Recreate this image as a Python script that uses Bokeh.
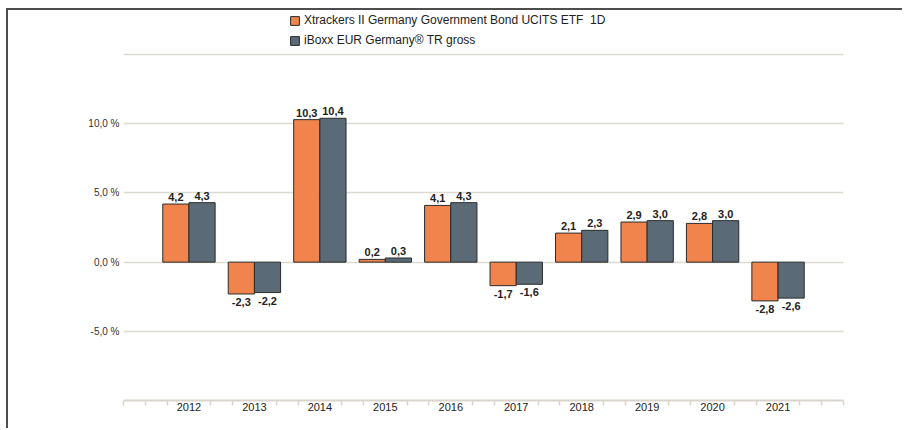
from bokeh.plotting import figure
from bokeh.models import (ColumnDataSource, FixedTicker, Range1d, Legend, LegendItem)
from bokeh.core.properties import value
from bokeh.embed import file_html
from bokeh.resources import INLINE

years = [2012, 2013, 2014, 2015, 2016, 2017, 2018, 2019, 2020, 2021]
etf = [4.2, -2.3, 10.3, 0.2, 4.1, -1.7, 2.1, 2.9, 2.8, -2.8]
index = [4.3, -2.2, 10.4, 0.3, 4.3, -1.6, 2.3, 3.0, 3.0, -2.6]
series_names = ["Xtrackers II Germany Government Bond UCITS ETF  1D",
                "iBoxx EUR Germany\u00ae TR gross"]
y_ticks = [-5, 0, 5, 10]
grid_ticks = [-10, -5, 0, 5, 10, 15]
y_tick_labels = {-5: "-5,0 %", 0: "0,0 %", 5: "5,0 %", 10: "10,0 %"}

ORANGE = "#f0844c"
GREY = "#5a6a77"
FONT = "Liberation Sans"

p = figure(width=896, height=420, output_backend="svg", toolbar_location=None,
           x_range=Range1d(2011, 2022), y_range=Range1d(-10, 18.19),
           min_border_left=115, min_border_right=61, min_border_top=0,
           min_border_bottom=30)
p.outline_line_color = None
p.styles = {"margin-left": "6px", "margin-top": "8px",
            "border-top": "2px solid #4d4d4d", "border-left": "2px solid #4d4d4d"}

def fmt(v):
    return f"{v:.1f}".replace(".", ",")

off = 0.2
rends = []
for vals, col, shift in [(etf, ORANGE, -off), (index, GREY, off)]:
    src = ColumnDataSource(dict(x=[y + shift for y in years], top=vals))
    r = p.vbar(x="x", top="top", bottom=0, width=0.4, source=src,
               fill_color=col, line_color="#2b2b2b", line_width=1)
    rends.append(r)
    posx = [y + shift for y, v in zip(years, vals) if v >= 0]
    posy = [v for v in vals if v >= 0]
    negx = [y + shift for y, v in zip(years, vals) if v < 0]
    negy = [v for v in vals if v < 0]
    p.text(x=posx, y=posy, text=[fmt(v) for v in posy], text_align="center",
           text_baseline="bottom", y_offset=-3, text_font=value(FONT),
           text_font_size="11px", text_font_style="bold", text_color="#222222")
    p.text(x=negx, y=negy, text=[fmt(v) for v in negy], text_align="center",
           text_baseline="top", y_offset=4, text_font=value(FONT),
           text_font_size="11px", text_font_style="bold", text_color="#222222")

# grid
p.xgrid.grid_line_color = None
p.ygrid.ticker = FixedTicker(ticks=grid_ticks)
p.ygrid.grid_line_color = "#dcd9d1"
p.ygrid.grid_line_width = 1.5

# y axis
p.yaxis.ticker = FixedTicker(ticks=y_ticks)
p.yaxis.major_label_overrides = y_tick_labels
p.yaxis.axis_line_color = None
p.yaxis.major_tick_line_color = None
p.yaxis.major_tick_out = 0
p.yaxis.major_tick_in = 0
p.yaxis.minor_tick_line_color = None
p.yaxis.minor_tick_out = 0
p.yaxis.major_label_text_font = FONT
p.yaxis.major_label_text_font_size = "10px"
p.yaxis.major_label_text_color = "#333333"
p.yaxis.major_label_standoff = 4

# x axis
minor = []
for k in range(0, 34):
    t = 2011 + k / 3
    if abs(t - round(t)) < 1e-6 and 2012 <= round(t) <= 2021:
        continue
    minor.append(t)
p.xaxis.ticker = FixedTicker(ticks=years, minor_ticks=minor)
p.xaxis.axis_line_color = "#d9d5cc"
p.xaxis.axis_line_width = 2
p.xaxis.major_tick_line_color = None
p.xaxis.major_tick_out = 0
p.xaxis.major_tick_in = 0
p.xaxis.minor_tick_line_color = "#d9d5cc"
p.xaxis.minor_tick_line_width = 1.5
p.xaxis.minor_tick_out = 5
p.xaxis.minor_tick_in = 0
p.xaxis.major_label_text_font = FONT
p.xaxis.major_label_text_font_size = "11px"
p.xaxis.major_label_text_color = "#222222"
p.xaxis.major_label_standoff = -3

legend = Legend(items=[LegendItem(label=series_names[0], renderers=[rends[0]]),
                       LegendItem(label=series_names[1], renderers=[rends[1]])],
                location=(166, 353), orientation="vertical",
                border_line_color=None, background_fill_alpha=0,
                padding=0, margin=0, spacing=6, glyph_width=11, glyph_height=11,
                label_height=11, label_standoff=4,
                label_text_font=FONT, label_text_font_size="12px",
                label_text_color="#222222")
p.add_layout(legend, "center")

open("out.html", "w").write(file_html(p, INLINE))
